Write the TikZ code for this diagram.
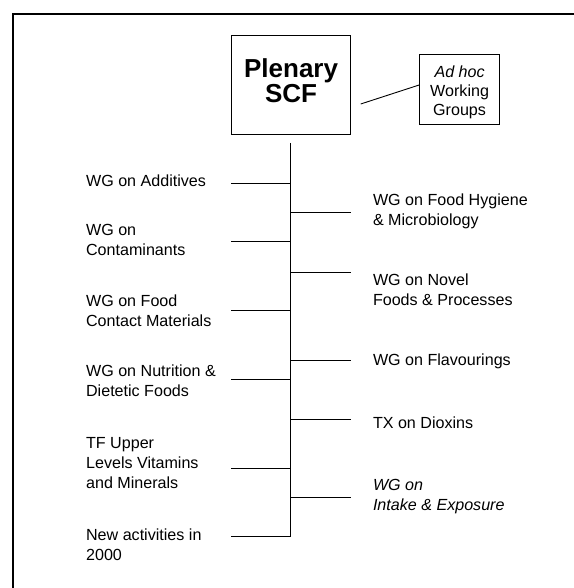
\documentclass[tikz,border=0pt]{standalone}
\usepackage{fontspec}
\setmainfont{Liberation Sans}
\usetikzlibrary{calc}
\newcommand\lefttab[1]{\begin{tabular}[t]{@{}l@{}}#1\end{tabular}}
\newcommand\midtab[1]{\begin{tabular}{@{}c@{}}#1\end{tabular}}
\begin{document}
\begin{tikzpicture}[x=1pt,y=-1pt,
  lbl/.style={inner sep=0pt, anchor=base west, font=\fontsize{16.1}{20}\selectfont},
  conn/.style={line width=0.9pt, black},
  frame/.style={line width=2.4pt, black},
  plenbox/.style={draw, line width=0.9pt, inner sep=0pt, minimum width=119.5pt, minimum height=99pt, font=\fontsize{26}{24}\selectfont\bfseries},
  adhocbox/.style={draw, line width=0.9pt, inner sep=0pt, minimum width=80pt, minimum height=70pt, font=\fontsize{16.1}{19}\selectfont}]
\useasboundingbox (0,0) rectangle (573,588);
% frame
\coordinate (fbl) at (13,590);
\coordinate (ftl) at (13,14);
\coordinate (ftr) at (575,14);
\draw[frame] (fbl) -- (ftl) -- (ftr);
% top boxes
\node[plenbox] (plen) at (291.1,84.5) {\midtab{Plenary\\SCF}};
\node[adhocbox] (adhoc) at (459.6,89) {\midtab{\rule{0pt}{20.3pt}\textit{Ad hoc}\\Working\\Groups}};
\coordinate (adst) at (360.7,104);
\draw[conn] (adst) -- ($(adhoc.west)+(0,-4)$);
% trunk
\coordinate (ttop) at (290.9,143);
\coordinate (tbot) at (290.9,536.7);
\draw[conn] (ttop) -- (tbot);
% left labels
\node[lbl] (l1) at (85.9,186) {\lefttab{WG on Additives}};
\node[lbl] (l2) at (85.9,235.7) {\lefttab{WG on\\Contaminants}};
\node[lbl] (l3) at (85.9,306.7) {\lefttab{WG on Food\\Contact Materials}};
\node[lbl] (l4) at (85.9,376.7) {\lefttab{WG on Nutrition \&\\Dietetic Foods}};
\node[lbl] (l5) at (85.9,448.3) {\lefttab{TF Upper\\Levels Vitamins\\and Minerals}};
\node[lbl] (l6) at (85.9,540) {\lefttab{New activities in\\2000}};
% right labels
\node[lbl] (r1) at (372.8,205) {\lefttab{WG on Food Hygiene\\\& Microbiology}};
\node[lbl] (r2) at (372.8,285) {\lefttab{WG on Novel\\Foods \& Processes}};
\node[lbl] (r3) at (372.8,365) {\lefttab{WG on Flavourings}};
\node[lbl] (r4) at (372.8,428.3) {\lefttab{TX on Dioxins}};
\node[lbl] (r5) at (372.8,490) {\lefttab{\textit{WG on}\\\textit{Intake \& Exposure}}};
% left branches
\coordinate (lb1) at (231.4,183.3);
\coordinate (lb2) at (231.4,241.7);
\coordinate (lb3) at (231.4,310.7);
\coordinate (lb4) at (231.4,379.3);
\coordinate (lb5) at (231.4,468.3);
\coordinate (lb6) at (231.4,536.7);
\foreach \c in {lb1,lb2,lb3,lb4,lb5,lb6}{\draw[conn] (\c) -- (\c -| ttop);}
% right branches
\coordinate (rb1) at (350.9,212.3);
\coordinate (rb2) at (350.9,272);
\coordinate (rb3) at (350.9,360.3);
\coordinate (rb4) at (350.9,419.3);
\coordinate (rb5) at (350.9,497.7);
\foreach \c in {rb1,rb2,rb3,rb4,rb5}{\draw[conn] (\c -| ttop) -- (\c);}
\end{tikzpicture}
\end{document}
